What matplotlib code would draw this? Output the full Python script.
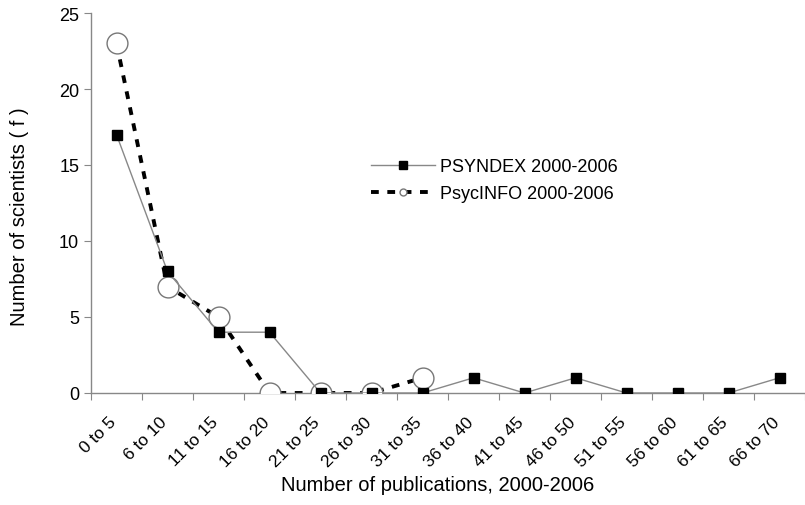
import matplotlib
matplotlib.use('Agg')
import matplotlib.pyplot as plt
from matplotlib.lines import Line2D
from matplotlib.transforms import ScaledTranslation, blended_transform_factory
import numpy as np

categories = ['0 to 5', '6 to 10', '11 to 15', '16 to 20', '21 to 25', '26 to 30',
              '31 to 35', '36 to 40', '41 to 45', '46 to 50', '51 to 55', '56 to 60',
              '61 to 65', '66 to 70']
psyndex = [17, 8, 4, 4, 0, 0, 0, 1, 0, 1, 0, 0, 0, 1]
psycinfo = [23, 7, 5, 0, 0, 0, 1]

plt.rcParams['font.family'] = ['Liberation Sans', 'DejaVu Sans']
plt.rcParams['font.size'] = 13

fig = plt.figure(figsize=(8.05, 5.06), dpi=100)
ax = fig.add_axes([91 / 805, 112 / 506, 1 - 91 / 805, (394 - 14) / 506])

x = np.arange(len(categories)) + 0.5
x_info = x[:len(psycinfo)]

# PsycINFO: thick dashed line, open circles
ax.plot(x_info, psycinfo, color='black', linewidth=2.8, linestyle=(0, (2, 2.2)),
        zorder=2)
ax.plot(x_info, psycinfo, linestyle='none', marker='o', markersize=15,
        markerfacecolor='white', markeredgecolor='#777777', markeredgewidth=1.0,
        zorder=3)

# PSYNDEX: thin grey line, black squares
ax.plot(x, psyndex, color='#888888', linewidth=1.0, zorder=4)
ax.plot(x, psyndex, linestyle='none', marker='s', markersize=7,
        markerfacecolor='black', markeredgecolor='black', zorder=5)

ax.set_xlim(0, len(categories))
ax.set_ylim(0, 25)
ax.set_yticks([0, 5, 10, 15, 20, 25])
ax.set_xticks(np.arange(len(categories) + 1))
ax.set_xticklabels([])
ax.tick_params(axis='both', which='major', direction='out', length=5,
               color='#888888', labelsize=13)

# category labels, rotated, sitting under the middle of each interval
trans = blended_transform_factory(ax.transData, ax.transAxes) + \
    ScaledTranslation(-8 / 100, -21 / 100, fig.dpi_scale_trans)
for xi, cat in zip(x, categories):
    ax.text(xi, 0, cat, transform=trans, rotation=45, ha='right', va='top',
            rotation_mode='anchor', fontsize=12.5, clip_on=False)

for side in ['top', 'right']:
    ax.spines[side].set_visible(False)
for side in ['left', 'bottom']:
    ax.spines[side].set_color('#888888')
    ax.spines[side].set_linewidth(1.0)

fig.text(20 / 805, 1 - 217 / 506, 'Number of scientists ( f )', rotation=90,
         ha='center', va='center', fontsize=14.5)
fig.text(438 / 805, 1 - 486 / 506, 'Number of publications, 2000-2006',
         ha='center', va='center', fontsize=14.5)

handles = [
    Line2D([], [], color='#888888', linewidth=1.0, marker='s', markersize=6,
           markerfacecolor='black', markeredgecolor='black'),
    Line2D([], [], color='black', linewidth=2.8, linestyle=(0, (2, 2.2)),
           marker='o', markersize=5, markerfacecolor='white',
           markeredgecolor='#777777'),
]
ax.legend(handles, ['PSYNDEX 2000-2006', 'PsycINFO 2000-2006'],
          loc='upper left', bbox_to_anchor=(0.37, 0.66), frameon=False,
          handlelength=3.5, handletextpad=0.3, labelspacing=0.55, fontsize=13)

fig.savefig('out.png', dpi=100)
